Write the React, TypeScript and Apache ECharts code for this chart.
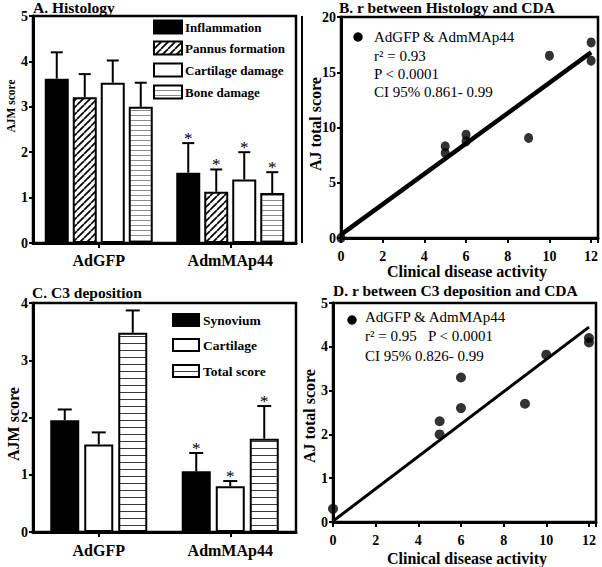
import React, { useEffect, useRef } from 'react';
import * as echarts from 'echarts';

// ---------- Data ----------
const groups = ['AdGFP', 'AdmMAp44'];

const histNames = ['Inflammation', 'Pannus formation', 'Cartilage damage', 'Bone damage'];
const histMeans = [
  [3.62, 1.55],
  [3.21, 1.13],
  [3.53, 1.4],
  [3.0, 1.1],
];
const histErrTop = [
  [4.2, 2.2],
  [3.72, 1.62],
  [4.02, 2.0],
  [3.53, 1.56],
];
const histStars = [
  [0, 1],
  [0, 1],
  [0, 1],
  [0, 1],
];

const c3Names = ['Synovium', 'Cartilage', 'Total score'];
const c3Means = [
  [1.95, 1.06],
  [1.53, 0.8],
  [3.48, 1.63],
];
const c3ErrTop = [
  [2.14, 1.38],
  [1.74, 0.89],
  [3.87, 2.2],
];
const c3Stars = [
  [0, 1],
  [0, 1],
  [0, 1],
];

const cdaB = [0, 5, 5, 6, 6, 9, 10, 12, 12];
const histTotal = [0, 8.3, 7.7, 9.35, 8.75, 9.05, 16.5, 17.7, 16.05];
const fitBx = [0, 12];
const fitBy = [0.3, 16.8];

const cdaD = [0, 5, 5, 6, 6, 9, 10, 12, 12];
const c3Total = [0.3, 2.3, 2.0, 3.3, 2.6, 2.7, 3.82, 4.2, 4.1];
const fitDx = [0, 12];
const fitDy = [0.02, 4.45];

const legendB = ['AdGFP & AdmMAp44', 'r\u00b2 = 0.93', 'P < 0.0001', 'CI 95% 0.861- 0.99'];
const legendD = ['AdGFP & AdmMAp44', 'r\u00b2 = 0.95   P < 0.0001', 'CI 95% 0.826- 0.99'];

// ---------- Helpers ----------
const SERIF = "'Liberation Serif', 'Times New Roman', serif";

function makePattern(w: number, h: number, draw: (ctx: CanvasRenderingContext2D) => void) {
  const c = document.createElement('canvas');
  c.width = w;
  c.height = h;
  const ctx = c.getContext('2d') as CanvasRenderingContext2D;
  ctx.fillStyle = '#ffffff';
  ctx.fillRect(0, 0, w, h);
  draw(ctx);
  return { image: c.toDataURL(), imageWidth: w, imageHeight: h, repeat: 'repeat' };
}

function diagPattern() {
  return makePattern(7, 7, (ctx) => {
    ctx.strokeStyle = '#000';
    ctx.lineWidth = 1.7;
    for (const k of [-7, 0, 7]) {
      ctx.beginPath();
      ctx.moveTo(k, 7);
      ctx.lineTo(k + 7, 0);
      ctx.stroke();
    }
  });
}

function hLinePattern(h: number, color: string) {
  return makePattern(4, h, (ctx) => {
    ctx.fillStyle = color;
    ctx.fillRect(0, 0, 4, 1);
  });
}

function errorSeries(
  idx: number,
  n: number,
  barW: number,
  gap: number,
  means: number[],
  tops: number[],
  stars: number[],
  axisIdx: number,
  cap: number
) {
  const offset = (idx - (n - 1) / 2) * (barW + gap);
  return {
    type: 'custom',
    xAxisIndex: axisIdx,
    yAxisIndex: axisIdx,
    z: 5,
    data: means.map((m, i) => [i, m, tops[i], stars[i]]),
    renderItem: (params: any, api: any) => {
      const cat = api.value(0);
      const b = api.coord([cat, api.value(1)]);
      const t = api.coord([cat, api.value(2)]);
      const x = b[0] + offset;
      const children: any[] = [
        { type: 'line', shape: { x1: x, y1: b[1], x2: x, y2: t[1] }, style: { stroke: '#000', lineWidth: 2 } },
        { type: 'line', shape: { x1: x - cap, y1: t[1], x2: x + cap, y2: t[1] }, style: { stroke: '#000', lineWidth: 2 } },
      ];
      if (api.value(3)) {
        children.push({
          type: 'text',
          x: x,
          y: t[1] + 4,
          style: {
            text: '*',
            fontSize: 17,
            fontFamily: SERIF,
            fill: '#000',
            align: 'center',
            verticalAlign: 'bottom',
            textAlign: 'center',
            textVerticalAlign: 'bottom',
          },
        });
      }
      return { type: 'group', children };
    },
  };
}

function txt(
  text: string,
  x: number,
  y: number,
  size: number,
  bold: boolean,
  align: string = 'left',
  rotation: number = 0
) {
  return {
    type: 'text',
    x,
    y,
    rotation,
    style: {
      text,
      fontSize: size,
      fontWeight: bold ? 'bold' : 'normal',
      fontFamily: SERIF,
      fill: '#000',
      align,
      verticalAlign: 'middle',
      textAlign: align,
      textVerticalAlign: 'middle',
    },
  };
}

const axisLineStyle = { show: true, lineStyle: { color: '#000', width: 3 } };
const tickStyle = (len: number) => ({ show: true, length: len, lineStyle: { color: '#000', width: 2 } });
const labelStyle = (size: number, margin: number) => ({
  color: '#000',
  fontFamily: SERIF,
  fontWeight: 'bold',
  fontSize: size,
  margin,
});

export default function App() {
  const ref = useRef<HTMLDivElement>(null);

  useEffect(() => {
    if (!ref.current) return;
    const chart = echarts.init(ref.current, undefined, { renderer: 'svg' });

    const diag = diagPattern();
    const hA = hLinePattern(5, '#8c8c8c');
    const hC = hLinePattern(7, '#3a3a3a');

    const histFills: any[] = ['#000', diag, '#fff', hA];
    const c3Fills: any[] = ['#000', '#fff', hC];

    const gridStyle = { show: true, borderColor: '#000', borderWidth: 2.5, containLabel: false };

    const barA = 24,
      gapA = 4,
      barC = 29,
      gapC = 5;

    const series: any[] = [];
    histNames.forEach((name, i) => {
      series.push({
        type: 'bar',
        name,
        xAxisIndex: 0,
        yAxisIndex: 0,
        data: histMeans[i],
        barWidth: barA,
        barGap: (gapA / barA) * 100 + '%',
        itemStyle: { color: histFills[i], borderColor: '#000', borderWidth: 2 },
      });
    });
    histNames.forEach((_, i) => {
      series.push(errorSeries(i, histNames.length, barA, gapA, histMeans[i], histErrTop[i], histStars[i], 0, 6));
    });

    c3Names.forEach((name, i) => {
      series.push({
        type: 'bar',
        name,
        xAxisIndex: 2,
        yAxisIndex: 2,
        data: c3Means[i],
        barWidth: barC,
        barGap: (gapC / barC) * 100 + '%',
        itemStyle: { color: c3Fills[i], borderColor: '#000', borderWidth: 2 },
      });
    });
    c3Names.forEach((_, i) => {
      series.push(errorSeries(i, c3Names.length, barC, gapC, c3Means[i], c3ErrTop[i], c3Stars[i], 2, 7));
    });

    series.push({
      type: 'line',
      xAxisIndex: 1,
      yAxisIndex: 1,
      data: fitBx.map((x, i) => [x, fitBy[i]]),
      showSymbol: false,
      lineStyle: { color: '#000', width: 4.5 },
      z: 3,
    });
    series.push({
      type: 'scatter',
      xAxisIndex: 1,
      yAxisIndex: 1,
      data: cdaB.map((x, i) => [x, histTotal[i]]),
      symbolSize: [9, 10],
      itemStyle: { color: '#000' },
      clip: false,
      z: 4,
    });
    series.push({
      type: 'line',
      xAxisIndex: 3,
      yAxisIndex: 3,
      data: fitDx.map((x, i) => [x, fitDy[i]]),
      showSymbol: false,
      lineStyle: { color: '#000', width: 3 },
      z: 3,
    });
    series.push({
      type: 'scatter',
      xAxisIndex: 3,
      yAxisIndex: 3,
      data: cdaD.map((x, i) => [x, c3Total[i]]),
      symbolSize: [10, 10],
      itemStyle: { color: '#000' },
      clip: false,
      z: 4,
    });

    const evenFmt = (v: number) => (Math.abs(v % 2) < 1e-6 && v <= 12 ? String(v) : '');

    const graphics: any[] = [];
    // Titles
    graphics.push(txt('A. Histology', 33, 7, 15.5, true));
    graphics.push(txt('B. r between Histology and CDA', 339, 7, 15.5, true));
    graphics.push(txt('C. C3 deposition', 32, 292, 15.5, true));
    graphics.push(txt('D. r between C3 deposition and CDA', 333, 290, 15.5, true));
    // Axis names
    graphics.push(txt('AJM score', 11, 106, 11.5, true, 'center', Math.PI / 2));
    graphics.push(txt('AJM score', 13, 424, 16, true, 'center', Math.PI / 2));
    graphics.push(txt('AJ total score', 315, 124, 16, true, 'center', Math.PI / 2));
    graphics.push(txt('AJ total score', 309, 416, 16, true, 'center', Math.PI / 2));
    graphics.push(txt('Clinical disease activity', 467, 271, 16, true, 'center'));
    graphics.push(txt('Clinical disease activity', 467, 558, 16, true, 'center'));

    // Legend A
    const rowsA = [27, 48, 70, 92];
    histNames.forEach((name, i) => {
      graphics.push({
        type: 'rect',
        shape: { x: 154, y: rowsA[i] - 6.5, width: 28, height: 13 },
        style: { fill: histFills[i], stroke: '#000', lineWidth: 2 },
      });
      graphics.push(txt(name, 185, rowsA[i], 13, true));
    });
    // Legend C
    const rowsC = [320, 345, 371];
    c3Names.forEach((name, i) => {
      graphics.push({
        type: 'rect',
        shape: { x: 173, y: rowsC[i] - 6, width: 26, height: 12 },
        style: { fill: c3Fills[i], stroke: '#000', lineWidth: 2 },
      });
      graphics.push(txt(name, 203, rowsC[i], 13.5, true));
    });
    // Legend B
    graphics.push({ type: 'circle', shape: { cx: 358, cy: 37, r: 4.7 }, style: { fill: '#000' } });
    const rowsB = [37, 56, 74, 92];
    legendB.forEach((t, i) => graphics.push(txt(t, 374, rowsB[i], 15, false)));
    // Legend D
    graphics.push({ type: 'circle', shape: { cx: 352, cy: 320, r: 4.7 }, style: { fill: '#000' } });
    const rowsD = [317, 336, 356];
    legendD.forEach((t, i) => graphics.push(txt(t, 365, rowsD[i], 15, false)));
    // stray vertical rule left of panel B
    graphics.push({
      type: 'line',
      shape: { x1: 302, y1: 16, x2: 302, y2: 243 },
      style: { stroke: '#000', lineWidth: 2 },
    });

    chart.setOption({
      animation: false,
      backgroundColor: '#fff',
      grid: [
        { ...gridStyle, left: 33, top: 16, width: 263, height: 227 },
        { ...gridStyle, left: 341, top: 17, width: 257, height: 221 },
        { ...gridStyle, left: 33, top: 303, width: 263, height: 229 },
        { ...gridStyle, left: 333, top: 303, width: 263, height: 219 },
      ],
      xAxis: [
        {
          gridIndex: 0,
          type: 'category',
          data: groups,
          axisLine: axisLineStyle,
          axisTick: { ...tickStyle(5), alignWithLabel: true },
          axisLabel: labelStyle(16, 9),
          splitLine: { show: false },
        },
        {
          gridIndex: 1,
          type: 'value',
          min: 0,
          max: 12.33,
          interval: 2,
          axisLine: axisLineStyle,
          axisTick: tickStyle(5),
          axisLabel: { ...labelStyle(14, 11), formatter: evenFmt },
          splitLine: { show: false },
        },
        {
          gridIndex: 2,
          type: 'category',
          data: groups,
          axisLine: axisLineStyle,
          axisTick: { ...tickStyle(5), alignWithLabel: true },
          axisLabel: labelStyle(16, 10),
          splitLine: { show: false },
        },
        {
          gridIndex: 3,
          type: 'value',
          min: 0,
          max: 12.33,
          interval: 2,
          axisLine: axisLineStyle,
          axisTick: tickStyle(5),
          axisLabel: { ...labelStyle(14, 11), formatter: evenFmt },
          splitLine: { show: false },
        },
      ],
      yAxis: [
        {
          gridIndex: 0,
          type: 'value',
          min: 0,
          max: 5,
          interval: 1,
          axisLine: axisLineStyle,
          axisTick: tickStyle(4),
          axisLabel: labelStyle(14, 5),
          splitLine: { show: false },
        },
        {
          gridIndex: 1,
          type: 'value',
          min: 0,
          max: 20,
          interval: 5,
          axisLine: axisLineStyle,
          axisTick: tickStyle(4),
          axisLabel: labelStyle(14, 5),
          splitLine: { show: false },
        },
        {
          gridIndex: 2,
          type: 'value',
          min: 0,
          max: 4,
          interval: 1,
          axisLine: axisLineStyle,
          axisTick: tickStyle(4),
          axisLabel: labelStyle(14, 5),
          splitLine: { show: false },
        },
        {
          gridIndex: 3,
          type: 'value',
          min: 0,
          max: 5,
          interval: 1,
          axisLine: axisLineStyle,
          axisTick: tickStyle(4),
          axisLabel: labelStyle(14, 5),
          splitLine: { show: false },
        },
      ],
      series,
      graphic: graphics,
    });

    return () => chart.dispose();
  }, []);

  return (
    <div
      ref={ref}
      style={{ position: 'absolute', left: 0, top: 0, width: 602, height: 567, background: '#fff' }}
    />
  );
}
